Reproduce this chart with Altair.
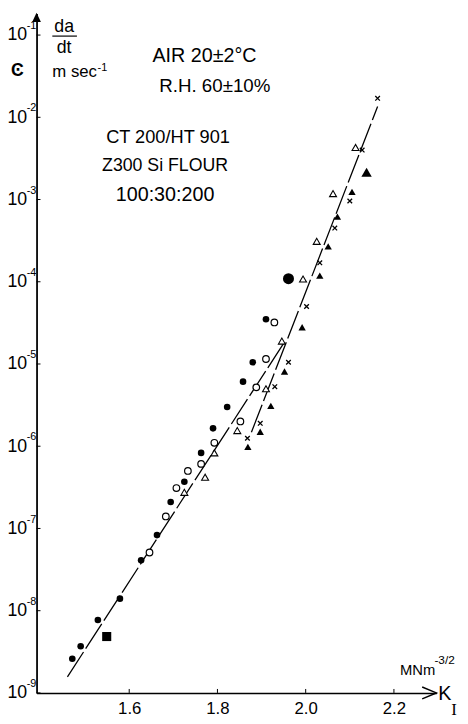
import altair as alt
import pandas as pd

# ---- data (K_I in MN m^-3/2, da/dt in m/s) ----
fc_k = [1.471, 1.490, 1.529, 1.579, 1.627, 1.663, 1.694, 1.725, 1.763, 1.790, 1.822, 1.858, 1.880, 1.910]
fc_v = [2.6e-9, 3.7e-9, 7.7e-9, 1.4e-8, 4.1e-8, 8.3e-8, 2.1e-7, 3.7e-7, 8.3e-7, 1.65e-6, 3.0e-6, 6.1e-6, 1.05e-5, 3.5e-5]
oc_k = [1.646, 1.683, 1.707, 1.733, 1.763, 1.793, 1.852, 1.888, 1.910, 1.929]
oc_v = [5.1e-8, 1.4e-7, 3.1e-7, 5.0e-7, 6.1e-7, 1.1e-6, 2.0e-6, 5.2e-6, 1.15e-5, 3.2e-5]
ot_k = [1.725, 1.772, 1.793, 1.845, 1.910, 1.946, 1.994, 2.025, 2.062, 2.113]
ot_v = [2.75e-7, 4.2e-7, 8.3e-7, 1.55e-6, 5.0e-6, 1.9e-5, 1.08e-4, 3.1e-4, 1.18e-3, 4.3e-3]
ft_k = [1.869, 1.897, 1.921, 1.952, 1.992, 2.032, 2.051, 2.072, 2.105]
ft_v = [9.8e-7, 1.5e-6, 3.1e-6, 8.1e-6, 2.8e-5, 1.19e-4, 2.7e-4, 6.2e-4, 1.24e-3]
x_k = [1.868, 1.897, 1.930, 1.961, 2.002, 2.032, 2.066, 2.100, 2.128, 2.163]
x_v = [1.25e-6, 1.9e-6, 5.3e-6, 1.05e-5, 5.0e-5, 1.7e-4, 4.5e-4, 9.6e-4, 4.0e-3, 1.7e-2]
bc_k = [1.961]
bc_v = [1.09e-4]
bt_k = [2.138]
bt_v = [2.15e-3]
sq_k = [1.549]
sq_v = [4.85e-9]
line_id = ["A", "A", "B", "B"]
line_k = [1.46, 1.95, 1.877, 2.163]
line_v = [1.57e-9, 1.78e-5, 1.48e-6, 1.35e-2]

x_ticks = [1.6, 1.8, 2.0, 2.2]
y_ticks = [1e-1, 1e-2, 1e-3, 1e-4, 1e-5, 1e-6, 1e-7, 1e-8, 1e-9]
y_exp = ["-1", "-2", "-3", "-4", "-5", "-6", "-7", "-8", "-9"]

X_MIN, X_MAX = 1.39, 2.2962
Y_MIN, Y_MAX = 1e-9, 0.1832
FONT = "Liberation Sans"

xs = alt.Scale(domain=[X_MIN, X_MAX], nice=False, zero=False)
ys = alt.Scale(type="log", domain=[Y_MIN, Y_MAX], nice=False)

X_AXIS = alt.Axis(values=x_ticks, format=".1f", title=None, grid=False, ticks=False,
                  domainColor="black", domainWidth=1.5, labelFont=FONT, labelFontSize=17,
                  labelColor="black", labelPadding=8, labelFlush=False)
Y_AXIS = alt.Axis(values=y_ticks, labelExpr="'10'", title=None, grid=False, ticks=False,
                  domainColor="black", domainWidth=1.8, labelFont=FONT, labelFontSize=18,
                  labelColor="black", labelPadding=10, labelBaseline="middle")


def df(k, v):
    return pd.DataFrame({"k": k, "v": v})


def X():
    return alt.X("k:Q", scale=xs, axis=X_AXIS)


def Y():
    return alt.Y("v:Q", scale=ys, axis=Y_AXIS)


def enc(chart):
    return chart.encode(x=X(), y=Y())


lines = enc(alt.Chart(pd.DataFrame({"id": line_id, "k": line_k, "v": line_v}))
            .mark_line(color="black", strokeWidth=1.3, strokeDash=[30, 4])).encode(detail="id:N")

CROSS = "M-1,-1L1,1M-1,1L1,-1"

layers = [
    lines,
    enc(alt.Chart(df(fc_k, fc_v)).mark_point(shape="circle", filled=True, color="black", size=45, opacity=1)),
    enc(alt.Chart(df(oc_k, oc_v)).mark_point(shape="circle", filled=False, color="black", size=45,
                                             strokeWidth=1.2, fill="white", fillOpacity=1, opacity=1)),
    enc(alt.Chart(df(ot_k, ot_v)).mark_point(shape="triangle-up", filled=False, color="black", size=50,
                                             strokeWidth=1.1, fill="white", fillOpacity=1, opacity=1)),
    enc(alt.Chart(df(ft_k, ft_v)).mark_point(shape="triangle-up", filled=True, color="black", size=55, opacity=1)),
    enc(alt.Chart(df(x_k, x_v)).mark_point(shape=CROSS, filled=False, color="black", size=22,
                                           strokeWidth=1.3, opacity=1)),
    enc(alt.Chart(df(bc_k, bc_v)).mark_point(shape="circle", filled=True, color="black", size=125, opacity=1)),
    enc(alt.Chart(df(bt_k, bt_v)).mark_point(shape="triangle-up", filled=True, color="black", size=110, opacity=1)),
    enc(alt.Chart(df(sq_k, sq_v)).mark_point(shape="square", filled=True, color="black", size=85, opacity=1)),
]

# axis ticks (inward)
yt = alt.Chart(pd.DataFrame({"v": y_ticks})).mark_rule(color="black", strokeWidth=1).encode(
    y=Y(), x=alt.value(0), x2=alt.value(4))
xt = alt.Chart(pd.DataFrame({"k": x_ticks})).mark_rule(color="black", strokeWidth=1).encode(
    x=X(), y=alt.value(690), y2=alt.value(686))

# exponents of the y labels
ye = alt.Chart(pd.DataFrame({"v": y_ticks, "e": y_exp})).mark_text(
    font=FONT, fontSize=11, align="left", baseline="alphabetic", dy=-6, color="black").encode(
    y=Y(), x=alt.value(-10), text="e:N")

# arrow heads
yarrow = enc(alt.Chart(pd.DataFrame({"k": [X_MIN], "v": [Y_MAX]})).mark_point(
    shape="M0,-0.2L-1.1,2.2L1.1,2.2Z", filled=True, color="black", size=64, opacity=1))
xarrow = enc(alt.Chart(pd.DataFrame({"k": [X_MAX], "v": [Y_MIN]})).mark_point(
    shape="M-3.6,-1.5L0,0L-3.6,1.5", filled=False, color="black", size=64, strokeWidth=1.5, opacity=1))


def label(text, x, y, size, align="center", font=FONT, weight="normal"):
    return alt.Chart(pd.DataFrame({"t": [text]})).mark_text(
        font=font, fontSize=size, align=align, baseline="alphabetic", color="black",
        fontWeight=weight).encode(x=alt.value(x), y=alt.value(y), text="t:N")


underline = alt.Chart(pd.DataFrame({"t": [0]})).mark_rule(color="black", strokeWidth=1.2).encode(
    x=alt.value(16), x2=alt.value(41), y=alt.value(23))

texts = [
    label("da", 28, 19, 18),
    underline,
    label("dt", 28, 40, 18),
    label("m sec", 16, 65, 17, align="left"),
    label("-1", 62, 58, 11, align="left"),
    label("Ͼ", -19.5, 64, 18, weight="bold"),
    label("AIR 20±2°C", 170.5, 49, 20),
    label("R.H. 60±10%", 181, 80, 19),
    label("CT 200/HT 901", 133.5, 132, 18.5),
    label("Z300 Si FLOUR", 130.5, 160, 18),
    label("100:30:200", 130.5, 190, 20),
    label("MNm", 369, 672, 15, align="left"),
    label("-3/2", 404, 661, 12, align="left"),
    label("K", 408, 697, 20, align="left"),
    label("I", 421, 712, 17, align="left", font="Liberation Serif"),
]

chart = alt.layer(*layers, yt, xt, ye, yarrow, xarrow, *texts).properties(
    width=406, height=690,
    padding={"left": 29, "top": 0, "right": 24, "bottom": 24},
    autosize=alt.AutoSizeParams(type="none"),
    background="white",
).configure_view(stroke=None)

chart.save("out.html", embed_options={"renderer": "svg", "actions": False})
